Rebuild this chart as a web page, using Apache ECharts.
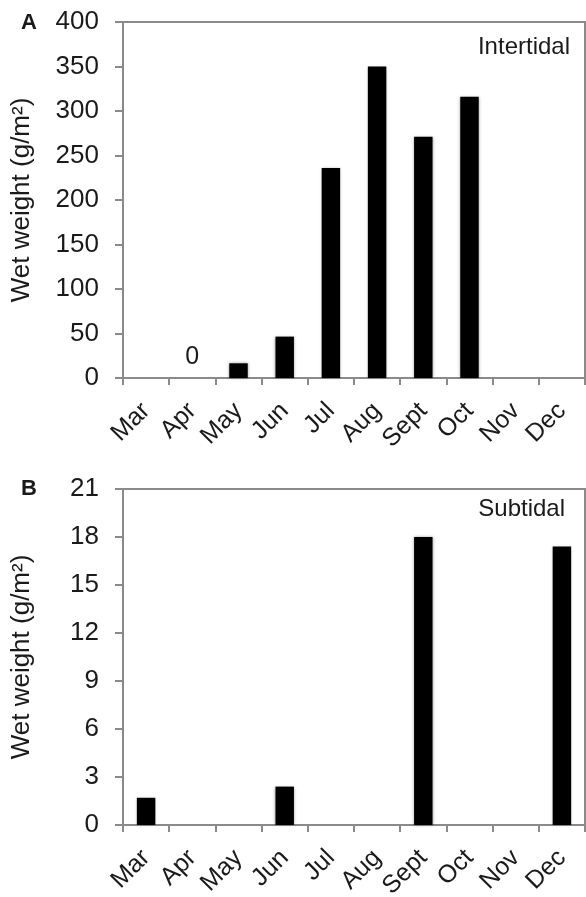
<!DOCTYPE html>
<html>
<head>
<meta charset="utf-8">
<script src="https://cdn.jsdelivr.net/npm/echarts@6/dist/echarts.min.js"></script>
<style>
  html, body { margin: 0; padding: 0; background: #fff; }
  #main { width: 586px; height: 897px; }
</style>
</head>
<body>
<div id="main"></div>
<script>
// months on both panels
var months = ['Mar', 'Apr', 'May', 'Jun', 'Jul', 'Aug', 'Sept', 'Oct', 'Nov', 'Dec'];
// A: intertidal wet weight (g/m2), '-' = not sampled
var intertidal = ['-', 0, 16.5, 46.5, 236, 350, 271, 316, '-', '-'];
// B: subtidal wet weight (g/m2)
var subtidal = [1.7, 0, 0, 2.4, 0, 0, 18, 0, 0, 17.4];
var intertidalTicks = { min: 0, max: 400, interval: 50 };
var subtidalTicks = { min: 0, max: 21, interval: 3 };

var font = 'Liberation Sans, Arial, Helvetica, sans-serif';
var axisGray = '#8a8a8a';
var textCol = '#1a1a1a';

function xAxisFor(idx) {
    return {
        type: 'category',
        gridIndex: idx,
        data: months,
        boundaryGap: true,
        axisLine: { lineStyle: { color: axisGray, width: 2 } },
        axisTick: { show: true, length: 7, alignWithLabel: false, lineStyle: { color: axisGray, width: 2 } },
        axisLabel: { rotate: 45, margin: 29, fontSize: 25, color: textCol, fontFamily: font, interval: 0 },
        splitLine: { show: false }
    };
}

function yAxisFor(idx, t) {
    return {
        type: 'value',
        gridIndex: idx,
        min: t.min,
        max: t.max,
        interval: t.interval,
        name: 'Wet weight (g/m²)',
        nameLocation: 'middle',
        nameGap: 88,
        nameTextStyle: { fontSize: 26, color: textCol, fontFamily: font },
        axisLine: { show: true, lineStyle: { color: axisGray, width: 2 } },
        axisTick: { show: true, length: 8, lineStyle: { color: axisGray, width: 2 } },
        axisLabel: { margin: 24, fontSize: 26, color: textCol, fontFamily: font },
        splitLine: { show: false }
    };
}

var topData = intertidal.map(function (v, i) {
    if (months[i] === 'Apr') {
        return { value: v, label: { show: true, position: 'top', distance: 8, formatter: '0',
                 fontSize: 25, color: textCol, fontFamily: font } };
    }
    return v;
});

var barStyle = { color: '#000', shadowBlur: 3, shadowColor: 'rgba(0,0,0,0.35)' };

var chart = echarts.init(document.getElementById('main'));
chart.setOption({
    backgroundColor: '#fff',
    animation: false,
    title: [
        { text: 'A', left: 16, top: 7, textStyle: { fontSize: 22, fontWeight: 'bold', color: textCol, fontFamily: font } },
        { text: 'Intertidal', right: 11, top: 30, textStyle: { fontSize: 24, fontWeight: 'normal', color: textCol, fontFamily: font } },
        { text: 'B', left: 16, top: 473, textStyle: { fontSize: 22, fontWeight: 'bold', color: textCol, fontFamily: font } },
        { text: 'Subtidal', right: 16, top: 492, textStyle: { fontSize: 24, fontWeight: 'normal', color: textCol, fontFamily: font } }
    ],
    grid: [
        { left: 123, top: 22, right: 1, height: 356, outerBoundsMode: 'none', containLabel: false,
          show: true, borderColor: axisGray, borderWidth: 2, backgroundColor: 'transparent' },
        { left: 123, top: 489, right: 1, height: 336, outerBoundsMode: 'none', containLabel: false,
          show: true, borderColor: axisGray, borderWidth: 2, backgroundColor: 'transparent' }
    ],
    xAxis: [xAxisFor(0), xAxisFor(1)],
    yAxis: [yAxisFor(0, intertidalTicks), yAxisFor(1, subtidalTicks)],
    series: [
        {
            name: 'Intertidal',
            type: 'bar',
            xAxisIndex: 0,
            yAxisIndex: 0,
            barWidth: '40%',
            itemStyle: barStyle,
            data: topData
        },
        {
            name: 'Subtidal',
            type: 'bar',
            xAxisIndex: 1,
            yAxisIndex: 1,
            barWidth: '40%',
            itemStyle: barStyle,
            data: subtidal
        }
    ]
});
</script>
</body>
</html>
